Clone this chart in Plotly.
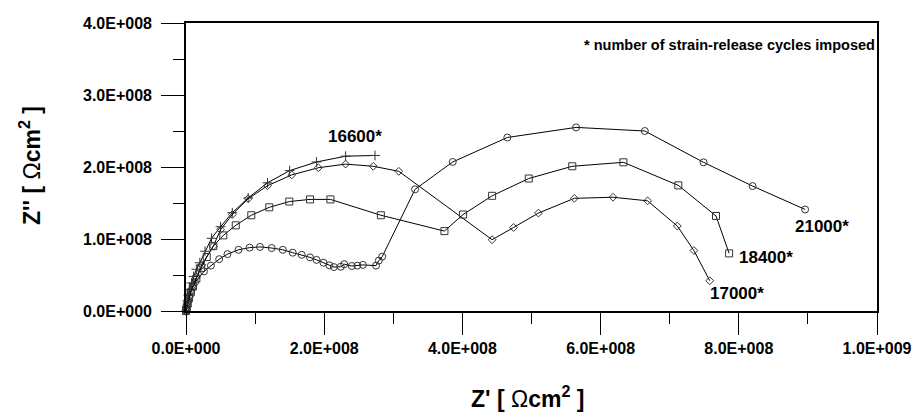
import plotly.graph_objects as go

# 16600* (plus markers)
x16600 = [0, 1.0e6, 2.0e6, 3.5e6, 5.5e6, 8.0e6, 1.1e7, 1.5e7, 2.0e7, 2.75e7, 3.7e7, 5.0e7, 6.7e7, 9.0e7, 1.18e8, 1.50e8, 1.89e8, 2.31e8, 2.735e8]
y16600 = [0, 6.0e6, 1.4e7, 2.2e7, 3.0e7, 3.9e7, 4.8e7, 5.8e7, 6.7e7, 8.3e7, 1.01e8, 1.17e8, 1.365e8, 1.57e8, 1.78e8, 1.95e8, 2.07e8, 2.15e8, 2.16e8]

# 17000* (diamond markers)
x17000 = [0, 1.0e6, 2.5e6, 4.5e6, 7.0e6, 1.0e7, 1.5e7, 2.27e7, 3.95e7, 5.0e7, 6.7e7, 9.0e7, 1.18e8, 1.53e8, 1.915e8, 2.31e8, 2.71e8, 3.08e8,
          4.43e8, 4.74e8, 5.10e8, 5.62e8, 6.18e8, 6.68e8, 7.11e8, 7.35e8, 7.58e8]
y17000 = [0, 5.0e6, 1.2e7, 2.0e7, 2.8e7, 3.6e7, 4.7e7, 6.4e7, 9.0e7, 1.13e8, 1.34e8, 1.56e8, 1.74e8, 1.89e8, 1.99e8, 2.04e8, 2.01e8, 1.94e8,
          0.99e8, 1.16e8, 1.36e8, 1.565e8, 1.58e8, 1.53e8, 1.18e8, 0.84e8, 0.42e8]

# 18400* (square markers)
x18400 = [0, 1.0e6, 2.5e6, 4.5e6, 7.0e6, 1.0e7, 1.5e7, 2.2e7, 3.0e7, 3.95e7, 5.4e7, 7.2e7, 9.45e7, 1.205e8, 1.495e8, 1.795e8, 2.09e8, 2.82e8,
          3.74e8, 4.01e8, 4.43e8, 4.96e8, 5.59e8, 6.33e8, 7.125e8, 7.67e8, 7.86e8]
y18400 = [0, 5.0e6, 1.1e7, 1.8e7, 2.6e7, 3.4e7, 4.5e7, 6.0e7, 7.5e7, 9.0e7, 1.05e8, 1.19e8, 1.33e8, 1.44e8, 1.52e8, 1.55e8, 1.55e8, 1.33e8,
          1.11e8, 1.34e8, 1.60e8, 1.84e8, 2.01e8, 2.065e8, 1.745e8, 1.32e8, 0.80e8]

# 21000* (circle markers)
x21000 = [0, 1.0e6, 2.0e6, 3.0e6, 5.0e6, 7.0e6, 9.5e6, 1.3e7, 2.6e7, 3.6e7, 4.8e7, 6.0e7, 7.6e7, 9.2e7, 1.07e8, 1.24e8, 1.40e8, 1.545e8,
          1.675e8, 1.795e8, 1.89e8, 1.99e8, 2.075e8, 2.14e8, 2.24e8, 2.29e8, 2.40e8, 2.48e8, 2.56e8, 2.75e8, 2.79e8, 2.84e8,
          3.315e8, 3.86e8, 4.65e8, 5.645e8, 6.64e8, 7.49e8, 8.20e8, 8.96e8]
y21000 = [0, 4.0e6, 9.0e6, 1.5e7, 2.1e7, 2.7e7, 3.3e7, 4.0e7, 5.5e7, 6.3e7, 7.2e7, 7.9e7, 8.5e7, 8.8e7, 8.9e7, 8.75e7, 8.5e7, 8.1e7,
          7.8e7, 7.45e7, 7.1e7, 6.7e7, 6.35e7, 6.1e7, 6.15e7, 6.5e7, 6.25e7, 6.3e7, 6.4e7, 6.3e7, 7.0e7, 7.55e7,
          1.69e8, 2.07e8, 2.41e8, 2.55e8, 2.50e8, 2.065e8, 1.735e8, 1.41e8]

x_ticks = [0, 2e8, 4e8, 6e8, 8e8, 1e9]
x_tick_text = ["0.0E+000", "2.0E+008", "4.0E+008", "6.0E+008", "8.0E+008", "1.0E+009"]
y_ticks = [0, 1e8, 2e8, 3e8, 4e8]
y_tick_text = ["0.0E+000", "1.0E+008", "2.0E+008", "3.0E+008", "4.0E+008"]

labels = ["16600*", "17000*", "18400*", "21000*"]
label_x = [2.45e8, 7.98e8, 8.40e8, 9.21e8]
label_y = [2.42e8, 0.25e8, 0.75e8, 1.17e8]

x_title = "<b>Z' [ </b>Ω<b>cm<sup>2</sup> ]</b>"
y_title = "<b>Z'' [ </b>Ω<b>cm<sup>2</sup> ]</b>"
note = "<b>* number of strain-release cycles imposed</b>"

FONT = "Liberation Sans, Arial, sans-serif"
W, H = 919, 414
L, R, T, B = 186, 42, 23, 103
PLOT_W = W - L - R
PLOT_H = H - T - B

fig = go.Figure()
series = [
    (x16600, y16600, "cross-thin-open", 7),
    (x17000, y17000, "diamond-open", 6),
    (x18400, y18400, "square-open", 7),
    (x21000, y21000, "circle-open", 7),
]
for xs, ys, sym, sz in series:
    fig.add_trace(go.Scatter(
        x=xs, y=ys, mode="lines+markers",
        line=dict(color="black", width=1),
        marker=dict(symbol=sym, size=sz, color="#333333", line=dict(width=1, color="#333333")),
        showlegend=False, cliponaxis=False,
    ))

for t, lx, ly in zip(labels, label_x, label_y):
    fig.add_annotation(x=lx, y=ly, text="<b>" + t + "</b>", showarrow=False,
                       font=dict(family=FONT, size=17, color="black"))

# y tick labels (placed with a wider gap from the axis, as in the reference)
for v, t in zip(y_ticks, y_tick_text):
    fig.add_annotation(xref="paper", yref="y", x=-(L - 154) / PLOT_W, y=v, xanchor="right", yanchor="middle",
                       text="<b>%s</b>" % t, showarrow=False,
                       font=dict(family=FONT, size=16, color="black"))

fig.add_annotation(xref="paper", yref="paper", x=1.0, y=0.925, xanchor="right", yanchor="middle",
                   text=note, showarrow=False, font=dict(family=FONT, size=14.5, color="black"))

# axis titles
fig.add_annotation(xref="paper", yref="paper", x=(527 - L) / PLOT_W, y=-(397 - (H - B)) / PLOT_H,
                   xanchor="center", yanchor="middle", text=x_title, showarrow=False,
                   font=dict(family=FONT, size=23, color="black"))
fig.add_annotation(xref="paper", yref="paper", x=-(L - 30) / PLOT_W, y=((H - B) - 166) / PLOT_H,
                   xanchor="center", yanchor="middle", text=y_title, showarrow=False, textangle=-90,
                   font=dict(family=FONT, size=23, color="black"))

fig.update_layout(
    width=W, height=H,
    margin=dict(l=L, r=R, t=T, b=B, autoexpand=False),
    paper_bgcolor="white", plot_bgcolor="white",
    font=dict(family=FONT, color="black"),
    xaxis=dict(
        range=[0, 1e9], tickvals=x_ticks, ticktext=["<b>%s</b>" % t for t in x_tick_text],
        ticks="outside", ticklen=22, tickwidth=1, tickcolor="black",
        showline=True, linecolor="black", linewidth=1.5, mirror=True,
        showgrid=False, zeroline=False, automargin=False,
        tickfont=dict(family=FONT, size=16, color="black"),
        minor=dict(ticks="outside", dtick=1e8, tick0=0, ticklen=11, tickcolor="black", tickwidth=1, showgrid=False),
    ),
    yaxis=dict(
        range=[0, 4e8], tickvals=y_ticks, showticklabels=False,
        ticks="outside", ticklen=23, tickwidth=1, tickcolor="black",
        showline=True, linecolor="black", linewidth=1.5, mirror=True,
        showgrid=False, zeroline=False, automargin=False,
        minor=dict(ticks="outside", dtick=5e7, tick0=0, ticklen=11, tickcolor="black", tickwidth=1, showgrid=False),
    ),
)

fig.write_html("out.html")
